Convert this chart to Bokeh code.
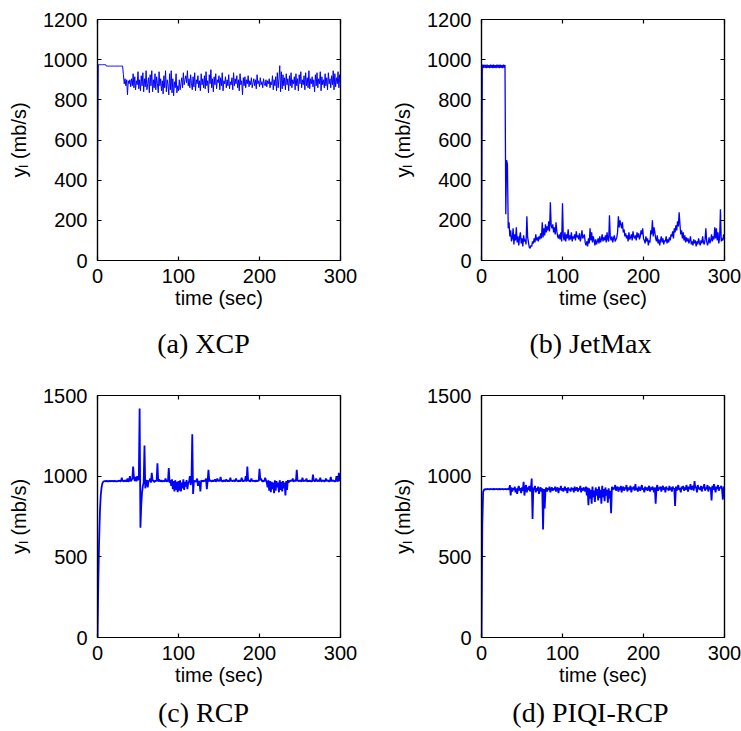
from bokeh.plotting import figure
from bokeh.models import Range1d, FixedTicker, LinearAxis, Label
from bokeh.layouts import column, row
from bokeh.embed import file_html
from bokeh.resources import INLINE

# ---------------- data (mb/s, one sample per second, t = 0..300) ----------------
x_ticks = [0, 100, 200, 300]
y_ticks_top = [0, 200, 400, 600, 800, 1000, 1200]
y_ticks_bottom = [0, 500, 1000, 1500]

xcp_vals = [
    350, 975, 975, 975, 975, 975, 975, 975, 975, 975, 975,
    968, 968, 968, 968, 968, 968, 968, 968, 968, 968, 968,
    968, 968, 968, 968, 968, 968, 968, 968, 968, 968,
    925, 880, 905, 870, 900, 825, 895, 880, 900, 865,
    905, 870, 930, 860, 915, 850, 895, 875, 940, 855,
    900, 845, 920, 870, 935, 840, 905, 865, 945, 850,
    880, 910, 835, 925, 870, 945, 840, 900, 860, 930,
    850, 915, 880, 835, 940, 870, 905, 845, 895, 830,
    920, 860, 945, 840, 900, 875, 825, 930, 850, 945,
    835, 905, 820, 890, 860, 930, 835, 870, 845, 900,
    850, 880, 910, 860, 935, 875, 900, 920, 885, 945,
    870, 905, 860, 925, 880, 850, 915, 865, 935, 845,
    900, 880, 920, 860, 895, 845, 930, 875, 905, 860,
    920, 855, 940, 870, 895, 835, 925, 880, 950, 860,
    905, 840, 915, 875, 930, 855, 900, 885, 920, 850,
    910, 870, 935, 845, 895, 880, 915, 860, 900, 870,
    925, 855, 890, 875, 910, 850, 935, 870, 905, 880,
    920, 860, 900, 845, 930, 875, 895, 825, 910, 870,
    915, 860, 900, 880, 920, 865, 895, 875, 910, 860,
    885, 905, 870, 900, 855, 925, 880, 895, 865, 910,
    875, 890, 860, 905, 880, 870, 900, 865, 895, 880,
    905, 860, 890, 875, 920, 850, 900, 870, 915, 845,
    935, 860, 905, 970, 840, 940, 855, 925, 870, 910,
    850, 930, 875, 905, 845, 920, 870, 935, 860, 900,
    880, 915, 850, 930, 870, 905, 845, 925, 880, 940,
    860, 900, 875, 920, 850, 935, 870, 910, 860, 945,
    855, 905, 880, 915, 865, 900, 840, 925, 870, 935,
    860, 905, 880, 940, 845, 915, 875, 900, 860, 930,
    870, 910, 850, 935, 880, 905, 860, 920, 875, 945,
    850, 930, 865, 910, 880, 940, 860, 925, 870,
]

jetmax_vals = [
    0, 975, 958, 975, 960, 974, 958, 975, 959, 973,
    958, 975, 960, 974, 958, 975, 959, 973, 958, 975,
    960, 974, 958, 975, 959, 973, 958, 975, 960, 974,
    230, 500, 480, 160, 190, 120, 150, 95, 110, 160,
    80, 130, 100, 165, 90, 120, 75, 115, 140, 85,
    110, 70, 125, 95, 105, 80, 220, 115, 90, 65,
    60, 75, 70, 95, 85, 110, 90, 130, 100, 115,
    95, 120, 105, 135, 110, 190, 115, 160, 125, 180,
    140, 170, 150, 195, 145, 290, 175, 160, 180, 140,
    165, 130, 190, 145, 120, 110, 130, 105, 140, 95,
    285, 120, 100, 140, 95, 130, 110, 155, 100, 125,
    105, 140, 95, 120, 110, 130, 100, 145, 115, 125,
    105, 135, 95, 115, 150, 110, 120, 130, 90, 75,
    95, 70, 110, 85, 160, 100, 140, 90, 120, 100,
    75, 105, 80, 95, 110, 85, 120, 90, 105, 130,
    95, 115, 100, 125, 90, 140, 105, 95, 225, 115,
    100, 120, 90, 110, 125, 95, 105, 115, 140, 220,
    165, 200, 180, 160, 190, 140, 155, 120, 135, 110,
    125, 95, 140, 105, 115, 130, 100, 145, 120, 110,
    125, 100, 140, 115, 135, 105, 120, 150, 130, 160,
    110, 100, 85, 120, 95, 110, 75, 100, 90, 150,
    130, 200, 120, 165, 140, 110, 95, 125, 85, 105,
    75, 100, 120, 90, 110, 80, 100, 95, 120, 85,
    105, 90, 115, 100, 130, 120, 145, 110, 160, 140,
    175, 150, 195, 170, 240, 180, 130, 150, 110, 140,
    100, 125, 90, 115, 95, 110, 85, 100, 120, 80,
    95, 75, 105, 85, 100, 70, 95, 80, 110, 90,
    75, 100, 85, 120, 90, 80, 105, 160, 95, 75,
    90, 115, 85, 100, 130, 95, 120, 105, 165, 110,
    160, 100, 140, 85, 115, 255, 95, 110, 100, 130,
    105,
]

rcp_vals = [
    0, 350, 600, 780, 880, 930, 955, 965, 968, 970,
    968, 972, 966, 970, 968, 973, 967, 970, 969, 971,
    967, 972, 968, 970, 966, 971, 969, 973, 967, 970,
    990, 968, 972, 966, 975, 970, 967, 985, 965, 972,
    1000, 968, 975, 985, 1060, 990, 970, 995, 968, 1000,
    975, 985, 1420, 680, 820, 900, 940, 960, 1190, 925,
    965, 975, 930, 972, 968, 985, 960, 1020, 970, 975,
    962, 972, 968, 975, 1080, 965, 980, 970, 968, 975,
    965, 972, 968, 970, 985, 966, 972, 968, 1050, 960,
    975, 940, 980, 920, 970, 905, 975, 915, 965, 900,
    970, 910, 975, 905, 960, 925, 980, 915, 965, 935,
    975, 920, 960, 965, 1000, 945, 968, 1260, 890, 968,
    972, 965, 970, 985, 940, 970, 960, 905, 975, 968,
    972, 966, 975, 968, 985, 920, 972, 1040, 968, 975,
    970, 966, 975, 968, 972, 980, 966, 972, 985, 968,
    975, 970, 995, 968, 972, 966, 975, 970, 968, 980,
    972, 968, 975, 966, 990, 970, 972, 968, 975, 970,
    968, 985, 972, 970, 966, 975, 968, 972, 990, 970,
    968, 975, 970, 1000, 966, 1060, 972, 975, 966, 970,
    985, 968, 972, 970, 970, 966, 975, 968, 972, 970,
    1045, 975, 985, 970, 966, 972, 968, 990, 975, 960,
    930, 975, 910, 970, 900, 965, 920, 960, 895, 975,
    910, 970, 930, 960, 900, 975, 915, 965, 905, 970,
    925, 960, 880, 970, 915, 975, 960, 972, 968, 975,
    970, 985, 966, 972, 975, 968, 1040, 970, 972, 968,
    975, 970, 966, 990, 972, 968, 975, 970, 985, 966,
    972, 968, 975, 966, 970, 966, 1010, 975, 968, 970,
    985, 968, 972, 975, 966, 990, 970, 968, 975, 972,
    966, 970, 985, 968, 975, 972, 966, 970, 995, 968,
    972, 975, 968, 970, 966, 1000, 972, 968, 1020, 975,
    970,
]

piqi_vals = [
    0, 700, 900, 915, 918, 920, 917, 921, 919, 920,
    918, 921, 919, 920, 917, 922, 918, 920, 919, 921,
    918, 920, 922, 917, 920, 919, 921, 918, 920, 919,
    921, 918, 920, 922, 917, 945, 880, 930, 905, 925,
    915, 935, 900, 925, 890, 920, 940, 910, 925, 895,
    930, 910, 965, 880, 925, 945, 900, 930, 915, 940,
    905, 925, 985, 735, 930, 915, 940, 900, 925, 910,
    935, 890, 920, 930, 905, 925, 670, 920, 800, 915,
    930, 905, 925, 915, 935, 900, 920, 930, 910, 925,
    915, 935, 905, 920, 930, 895, 925, 915, 940, 910,
    925, 905, 920, 935, 910, 925, 895, 930, 915, 920,
    905, 930, 915, 925, 900, 935, 910, 920, 930, 905,
    925, 915, 940, 900, 925, 910, 930, 920, 905, 935,
    880, 930, 820, 925, 860, 915, 830, 935, 870, 910,
    840, 930, 880, 920, 850, 935, 865, 915, 830, 940,
    870, 920, 845, 930, 880, 915, 835, 925, 860, 910,
    770, 935, 915, 930, 920, 945, 910, 925, 935, 905,
    930, 915, 940, 900, 925, 935, 910, 930, 920, 945,
    905, 930, 915, 925, 940, 900, 930, 920, 935, 910,
    950, 915, 925, 905, 935, 920, 910, 930, 945, 915,
    925, 900, 935, 915, 930, 910, 925, 940, 905, 930,
    915, 935, 920, 900, 930, 830, 925, 945, 910, 930,
    920, 935, 905, 925, 940, 915, 930, 900, 935, 920,
    925, 910, 940, 915, 930, 905, 935, 920, 925, 815,
    935, 910, 930, 945, 915, 925, 900, 935, 920, 940,
    910, 930, 915, 945, 925, 905, 935, 920, 950, 915,
    930, 940, 910, 970, 925, 935, 900, 945, 920, 930,
    915, 940, 905, 935, 925, 950, 910, 930, 920, 945,
    905, 935, 920, 930, 850, 940, 915, 950, 925, 900,
    935, 920, 945, 910, 930, 925, 940, 915, 855, 935,
    925,
]

captions = ["(a) XCP", "(b) JetMax", "(c) RCP", "(d) PIQI-RCP"]
x_label = "time (sec)"
y_label = "y\u2097 (mb/s)"

SANS = "Liberation Sans"
SERIF = "Liberation Serif"

LEFT_W, RIGHT_W = 378, 363


def style_axis(ax, ticks, show_labels):
    ax.ticker = FixedTicker(ticks=ticks)
    ax.major_tick_in = 4
    ax.major_tick_out = 0
    ax.minor_tick_line_color = None
    ax.axis_line_color = "black"
    ax.axis_line_width = 1.2
    ax.major_tick_line_color = "black"
    ax.major_tick_line_width = 1.2
    if show_labels:
        ax.major_label_text_font = SANS
        ax.major_label_text_font_size = "20px"
        ax.major_label_text_color = "black"
        ax.axis_label_text_font = SANS
        ax.axis_label_text_font_size = "20px"
        ax.axis_label_text_font_style = "normal"
        ax.axis_label_text_color = "black"
    else:
        ax.major_label_text_font_size = "0px"
        ax.major_label_text_color = None
        ax.major_label_standoff = 0


def make_panel(vals, ymax, yticks, lw, width, height, ml, mr, mt, mb):
    times = list(range(len(vals)))
    p = figure(width=width, height=height, output_backend="svg",
               toolbar_location=None, x_range=Range1d(0, 300),
               y_range=Range1d(0, ymax), min_border_left=ml,
               min_border_right=mr, min_border_top=mt, min_border_bottom=mb)
    p.line(times, vals, line_color="#0000ff", line_width=lw)
    p.grid.visible = False
    p.outline_line_color = "black"
    p.outline_line_width = 1.2
    p.background_fill_color = "white"
    p.border_fill_color = "white"

    style_axis(p.xaxis[0], x_ticks, True)
    style_axis(p.yaxis[0], yticks, True)
    p.xaxis[0].axis_label = x_label
    p.xaxis[0].major_label_standoff = 8
    p.xaxis[0].axis_label_standoff = 1
    p.yaxis[0].axis_label = y_label
    p.yaxis[0].major_label_standoff = 10
    p.yaxis[0].axis_label_standoff = 10

    top = LinearAxis()
    style_axis(top, x_ticks, False)
    p.add_layout(top, "above")
    right = LinearAxis()
    style_axis(right, yticks, False)
    p.add_layout(right, "right")
    return p


def make_caption(text, width, height, cx, cy):
    c = figure(width=width, height=height, output_backend="svg",
               toolbar_location=None, x_range=Range1d(0, 1),
               y_range=Range1d(0, 1), min_border=0)
    c.axis.visible = False
    c.grid.visible = False
    c.outline_line_color = None
    c.background_fill_color = "white"
    c.border_fill_color = "white"
    c.add_layout(Label(x=cx, y=cy, x_units="screen", y_units="screen",
                       text=text, text_align="center", text_baseline="middle",
                       text_font=SERIF, text_font_size="28px",
                       text_color="black"))
    return c


pa = make_panel(xcp_vals, 1200, y_ticks_top, 1.0, LEFT_W, 318, 97, 38, 19, 58)
pb = make_panel(jetmax_vals, 1200, y_ticks_top, 1.3, RIGHT_W, 318, 103, 17, 19, 58)
ca = make_caption(captions[0], LEFT_W, 57, 203, 32)
cb = make_caption(captions[1], RIGHT_W, 57, 212, 32)

pc = make_panel(rcp_vals, 1500, y_ticks_bottom, 1.8, LEFT_W, 318, 97, 38, 20, 56)
pd = make_panel(piqi_vals, 1500, y_ticks_bottom, 1.8, RIGHT_W, 318, 103, 17, 20, 56)
cc = make_caption(captions[2], LEFT_W, 38, 203, 19)
cd = make_caption(captions[3], RIGHT_W, 38, 212, 19)

layout = column(row(pa, pb), row(ca, cb), row(pc, pd), row(cc, cd))

with open("out.html", "w") as f:
    f.write(file_html(layout, INLINE))
